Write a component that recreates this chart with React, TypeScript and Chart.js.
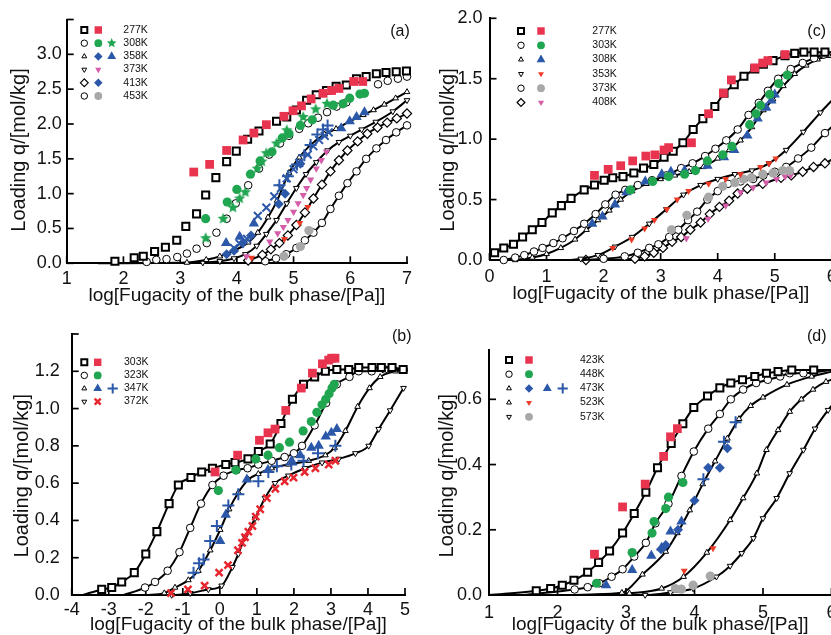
import React, { useEffect, useRef } from 'react';
import { Chart, registerables } from 'chart.js';
Chart.register(...registerables);

type P = [number, number];

// ---------------- Panel (a) data ----------------
const A_277_SIM: P[] = [[1.85,0.03],[2.19,0.08],[2.35,0.10],[2.55,0.17],[2.74,0.23],[2.94,0.33],[3.10,0.53],[3.29,0.71],[3.45,0.98],[3.63,1.23],[3.82,1.46],[3.99,1.61],[4.19,1.78],[4.39,1.90],[4.70,2.04],[4.88,2.10],[5.05,2.20],[5.23,2.34],[5.40,2.42],[5.58,2.48],[5.75,2.54],[5.93,2.56],[6.11,2.65],[6.28,2.68],[6.46,2.72],[6.63,2.74],[6.81,2.75],[6.99,2.76]];
const A_277_EXP: P[] = [[3.24,1.31],[3.52,1.42],[3.82,1.62],[4.11,1.77],[4.30,1.87],[4.52,1.99],[4.83,2.11],[4.99,2.19],[5.14,2.26],[5.31,2.36],[5.52,2.44],[5.67,2.48],[5.80,2.51],[6.06,2.61],[6.22,2.61]];
const A_308_SIM: P[] = [[2.41,0.02],[2.58,0.05],[2.76,0.06],[2.95,0.09],[3.12,0.14],[3.29,0.21],[3.47,0.29],[3.64,0.44],[3.82,0.64],[3.98,0.86],[4.20,1.12],[4.39,1.36],[4.57,1.56],[4.76,1.72],[4.92,1.83],[5.10,1.93],[5.26,2.01],[5.43,2.09],[5.59,2.17],[5.76,2.25],[5.93,2.31],[6.49,2.57],[6.66,2.62],[6.84,2.65],[7.00,2.68]];
const A_308_EXP_CI: P[] = [[3.45,0.64],[3.83,0.88],[4.00,1.06],[4.24,1.28],[4.41,1.47],[4.62,1.60],[4.80,1.80],[4.92,1.86],[5.12,1.98],[5.33,2.06],[5.70,2.27],[5.87,2.29],[5.99,2.37],[6.17,2.43],[6.25,2.44]];
const A_308_EXP_ST: P[] = [[3.45,0.36],[3.76,0.64],[3.93,0.80],[4.05,0.93],[4.15,1.02],[4.36,1.36],[4.44,1.46],[4.52,1.58],[4.70,1.72],[4.88,1.91],[5.17,2.10],[5.39,2.21],[5.59,2.29]];
const A_358_HEAD: P[] = [[1.55,0.0]];
const A_358_SIM: P[] = [[3.12,0.01],[3.46,0.05],[3.70,0.10],[3.95,0.18],[4.20,0.30],[4.37,0.44],[4.55,0.66],[4.71,0.90],[4.92,1.30],[5.10,1.52],[5.30,1.70],[5.55,1.85],[5.75,1.93],[6.00,2.04],[6.23,2.13],[6.41,2.20],[6.60,2.28],[6.80,2.37],[7.00,2.46]];
const A_373_SIM: P[] = [[3.40,0.01],[3.70,0.03],[3.95,0.07],[4.15,0.13],[4.35,0.25],[4.52,0.42],[4.70,0.62],[4.88,0.86],[5.05,1.08],[5.22,1.28],[5.40,1.45],[5.60,1.62],[5.80,1.74],[6.00,1.83],[6.20,1.92],[6.45,2.03],[6.75,2.18],[7.00,2.34]];
const A_413_SIM: P[] = [[4.20,0.04],[4.45,0.12],[4.60,0.20],[4.75,0.29],[4.90,0.40],[5.05,0.55],[5.20,0.73],[5.35,0.93],[5.50,1.13],[5.65,1.32],[5.80,1.48],[5.95,1.62],[6.13,1.75],[6.30,1.86],[6.48,1.95],[6.65,2.02],[6.82,2.08],[7.00,2.15]];
const A_453_SIM: P[] = [[4.50,0.03],[4.69,0.07],[4.87,0.13],[5.05,0.22],[5.20,0.33],[5.35,0.44],[5.50,0.58],[5.65,0.78],[5.80,0.97],[5.95,1.15],[6.11,1.32],[6.28,1.50],[6.46,1.65],[6.63,1.77],[6.81,1.88],[7.00,1.98]];
const A_453_EXP: P[] = [[4.83,0.10],[5.12,0.24],[5.27,0.47]];
const A_358_EXP_TRI: P[] = [[3.81,0.29],[4.05,0.38],[4.30,0.57],[5.84,1.94],[5.99,2.04],[6.11,2.10],[6.25,2.17]];
const A_BLUE_DIA: P[] = [[3.82,0.13],[3.95,0.18],[4.11,0.30],[4.25,0.40],[4.74,0.85],[4.85,1.00],[5.12,1.43]];
const A_BLUE_X: P[] = [[3.95,0.22],[4.05,0.28],[4.18,0.35],[4.37,0.68],[4.52,0.80],[4.66,0.96],[4.78,1.08],[4.88,1.22],[5.00,1.35],[5.10,1.44],[5.25,1.56],[5.35,1.68],[5.45,1.77],[5.55,1.83],[5.62,1.88]];
const A_BLUE_PLUS: P[] = [[4.75,1.12],[4.90,1.25],[5.06,1.42],[5.19,1.55],[5.30,1.70],[5.42,1.85],[5.52,1.92],[5.60,1.98]];
const A_373_EXP: P[] = [[4.17,0.10],[4.58,0.31],[4.72,0.43],[4.82,0.52],[4.90,0.62],[5.00,0.74],[5.08,0.86],[5.17,0.98],[5.23,1.08],[5.30,1.20],[5.40,1.36],[5.49,1.48],[5.58,1.60]];
const A_RED_TD: P[] = [[4.26,0.08],[4.84,0.35],[5.11,0.58],[5.25,0.81]];

// ---------------- Panel (c) data ----------------
const C_277_HEAD: P[] = [[0.0,0.05]];
const C_277_SIM: P[] = [[0.09,0.06],[0.25,0.10],[0.42,0.13],[0.58,0.19],[0.75,0.25],[0.92,0.31],[1.10,0.39],[1.26,0.45],[1.43,0.51],[1.66,0.58],[1.84,0.62],[2.01,0.66],[2.16,0.68],[2.34,0.69],[2.53,0.72],[2.70,0.76],[2.88,0.79],[3.06,0.85],[3.22,0.90],[3.39,0.97],[3.57,1.08],[3.74,1.17],[3.95,1.27],[4.11,1.38],[4.29,1.45],[4.46,1.52],[4.65,1.58],[4.80,1.62],[4.97,1.65],[5.18,1.69],[5.35,1.71],[5.51,1.72],[5.69,1.72],[5.88,1.72]];
const C_277_END: P[] = [[6.0,1.72]];
const C_277_EXP: P[] = [[1.84,0.70],[2.08,0.75],[2.30,0.78],[2.51,0.82],[2.74,0.86],[2.90,0.87],[3.06,0.91],[3.14,0.93],[3.54,0.97],[3.84,1.21],[4.10,1.38],[4.24,1.49],[4.65,1.59],[4.79,1.63],[4.88,1.65],[5.18,1.70]];
const C_303_SIM: P[] = [[0.25,0.00],[0.45,0.02],[0.61,0.04],[0.78,0.07],[0.93,0.10],[1.12,0.14],[1.28,0.18],[1.48,0.24],[1.66,0.30],[1.86,0.38],[2.03,0.46],[2.21,0.54],[2.38,0.58],[2.60,0.62],[2.85,0.66],[3.10,0.70],[3.36,0.76],[3.56,0.80],[3.78,0.86],[3.96,0.92],[4.15,0.99],[4.35,1.08],[4.54,1.20],[4.72,1.30],[4.88,1.40],[5.06,1.50],[5.28,1.58],[5.49,1.63],[5.69,1.67],[5.86,1.70]];
const C_303_END: P[] = [[6.0,1.72]];
const C_303_EXP: P[] = [[2.47,0.58],[2.86,0.65],[3.14,0.69],[3.42,0.71],[3.61,0.74],[3.82,0.82],[4.09,0.87],[4.25,0.94],[4.56,1.12],[4.67,1.21],[4.75,1.28],[4.91,1.37],[5.07,1.46],[5.22,1.53]];
const C_308_SIM: P[] = [[0.45,0.00],[0.75,0.02],[1.00,0.05],[1.25,0.10],[1.50,0.17],[1.70,0.25],[1.90,0.33],[2.10,0.41],[2.30,0.50],[2.50,0.57],[2.75,0.63],[3.00,0.67],[3.25,0.70],[3.50,0.73],[3.75,0.77],[4.00,0.84],[4.20,0.91],[4.40,0.99],[4.60,1.10],[4.80,1.24],[4.97,1.33],[5.15,1.44],[5.35,1.54],[5.55,1.61],[5.75,1.66],[5.95,1.69]];
const C_308_END: P[] = [[6.0,1.70]];
const C_308_EXP: P[] = [[1.80,0.30],[1.98,0.36],[2.20,0.46],[2.40,0.56],[2.73,0.65],[3.02,0.71],[3.18,0.73],[3.42,0.74],[3.82,0.78],[4.11,0.85],[4.29,0.91],[4.52,1.03],[4.70,1.17],[4.85,1.26],[4.94,1.32],[5.00,1.37]];
const C_353_HEAD: P[] = [[1.4,0.0]];
const C_353_SIM: P[] = [[1.60,0.01],[1.90,0.04],[2.20,0.11],[2.50,0.19],[2.80,0.30],[3.10,0.42],[3.40,0.54],[3.70,0.62],[4.00,0.67],[4.30,0.71],[4.60,0.74],[4.90,0.80],[5.20,0.91],[5.50,1.06],[5.80,1.22]];
const C_353_END: P[] = [[6.0,1.32]];
const C_353_EXP: P[] = [[2.16,0.10],[2.49,0.17],[2.72,0.26],[2.89,0.33],[3.11,0.42],[3.29,0.50],[3.49,0.57],[3.84,0.63],[4.14,0.67],[4.40,0.71],[4.75,0.77],[4.90,0.80],[5.02,0.84]];
const C_373_HEAD: P[] = [[1.6,0.0]];
const C_373_SIM: P[] = [[2.00,0.01],[2.37,0.03],[2.60,0.06],[2.80,0.10],[2.96,0.13],[3.15,0.19],[3.31,0.25],[3.48,0.33],[3.64,0.40],[3.82,0.50],[4.00,0.57],[4.18,0.63],[4.40,0.65],[4.62,0.67],[4.80,0.70],[5.00,0.73],[5.20,0.77],[5.41,0.84],[5.64,0.93],[5.88,1.05]];
const C_373_END: P[] = [[6.0,1.10]];
const C_373_EXP: P[] = [[3.19,0.25],[3.46,0.37],[3.84,0.52],[4.09,0.61],[4.30,0.64],[4.45,0.67],[4.59,0.68],[4.79,0.71],[4.97,0.72],[5.14,0.74],[5.26,0.74]];
const C_408_HEAD: P[] = [[1.5,0.0]];
const C_408_SIM: P[] = [[1.69,0.00],[2.55,0.01],[2.72,0.03],[2.88,0.06],[3.04,0.10],[3.20,0.15],[3.36,0.19],[3.52,0.25],[3.70,0.31],[3.86,0.38],[4.03,0.44],[4.20,0.49],[4.35,0.55],[4.52,0.59],[4.79,0.63],[5.11,0.68],[5.29,0.70],[5.49,0.73],[5.68,0.77],[5.88,0.80]];
const C_408_END: P[] = [[6.0,0.83]];
const C_408_EXP: P[] = [[3.45,0.18],[3.83,0.34],[4.14,0.45],[4.40,0.56],[4.62,0.60],[4.85,0.64],[5.03,0.67],[5.18,0.69],[5.28,0.70]];

// ---------------- Panel (b) data ----------------
const B_303_HEAD: P[] = [[-3.7,0.0]];
const B_303_SIM: P[] = [[-3.19,0.03],[-2.92,0.04],[-2.65,0.07],[-2.31,0.12],[-2.00,0.22],[-1.70,0.34],[-1.37,0.49],[-1.12,0.59],[-0.78,0.63],[-0.49,0.66],[-0.20,0.68],[0.16,0.70],[0.41,0.71],[0.76,0.73],[1.04,0.77],[1.36,0.81],[1.65,0.92],[1.96,1.05],[2.26,1.13],[2.56,1.17],[2.85,1.20],[3.16,1.21],[3.48,1.21],[3.75,1.22],[4.11,1.22],[4.36,1.22],[4.65,1.22],[4.95,1.21]];
const B_303_EXP: P[] = [[-0.13,0.66],[0.48,0.75],[1.07,0.83],[1.30,0.87],[1.49,0.89],[1.78,0.99],[2.20,1.11],[2.50,1.19],[2.77,1.24],[2.94,1.26],[3.02,1.27],[3.11,1.27]];
const B_323_HEAD: P[] = [[-2.6,0.0]];
const B_323_SIM: P[] = [[-2.02,0.04],[-1.75,0.07],[-1.41,0.13],[-1.09,0.23],[-0.80,0.36],[-0.51,0.49],[-0.20,0.59],[0.10,0.64],[0.45,0.67],[0.75,0.68],[1.04,0.70],[1.40,0.72],[1.75,0.74],[2.00,0.76],[2.22,0.80],[2.56,0.91],[2.87,1.03],[3.16,1.13],[3.50,1.17],[3.75,1.20],[4.10,1.20],[4.45,1.21],[4.96,1.21]];
const B_323_EXP: P[] = [[-0.04,0.56],[0.43,0.67],[0.97,0.73],[1.30,0.75],[1.61,0.79],[1.88,0.82],[2.25,0.88],[2.47,0.93],[2.62,0.98],[2.76,1.02],[2.86,1.05],[2.95,1.08],[3.03,1.11],[3.09,1.13]];
const B_347_HEAD: P[] = [[-2.0,0.0]];
const B_347_SIM: P[] = [[-1.50,0.01],[-1.21,0.04],[-0.85,0.08],[-0.58,0.13],[-0.26,0.24],[0.01,0.35],[0.25,0.46],[0.50,0.55],[0.77,0.62],[1.04,0.65],[1.40,0.68],[1.85,0.70],[2.40,0.72],[2.85,0.75],[3.10,0.79],[3.39,0.88],[3.72,1.01],[4.04,1.11],[4.33,1.17],[4.74,1.20],[5.00,1.21]];
const B_347_EXP_TRI: P[] = [[0.01,0.29],[0.16,0.43],[0.73,0.62],[1.30,0.67],[1.94,0.72],[2.17,0.75],[2.47,0.79],[2.67,0.80],[2.86,0.85],[3.01,0.87],[3.16,0.89]];
const B_347_EXP_PLUS: P[] = [[-0.71,0.12],[-0.56,0.17],[-0.44,0.19],[-0.26,0.29],[-0.08,0.37],[0.23,0.48],[0.50,0.54],[1.04,0.61],[1.31,0.66],[1.54,0.69],[1.93,0.70],[2.26,0.72],[2.65,0.76],[3.12,0.80]];
const B_372_HEAD: P[] = [[-1.6,0.0]];
const B_372_SIM: P[] = [[-1.30,0.00],[-0.80,0.01],[-0.31,0.03],[0.05,0.05],[0.34,0.15],[0.50,0.22],[0.68,0.31],[0.95,0.41],[1.22,0.52],[1.49,0.60],[1.85,0.64],[2.30,0.68],[2.76,0.71],[3.21,0.73],[3.66,0.76],[4.02,0.80],[4.29,0.89],[4.60,0.99],[4.96,1.11]];
const B_372_EXP: P[] = [[-1.32,0.01],[-0.86,0.03],[-0.41,0.05],[-0.02,0.12],[0.22,0.16],[0.49,0.24],[0.60,0.28],[0.68,0.31],[0.77,0.34],[0.88,0.37],[0.97,0.42],[1.09,0.46],[1.27,0.52],[1.50,0.57],[1.75,0.61],[1.99,0.63],[2.29,0.66],[2.58,0.68],[2.94,0.70],[3.12,0.72]];

// ---------------- Panel (d) data ----------------
const D_423_HEAD: P[] = [[1.0,0.0]];
const D_423_SIM: P[] = [[1.69,0.013],[1.90,0.02],[2.07,0.03],[2.24,0.045],[2.44,0.07],[2.60,0.10],[2.76,0.135],[2.95,0.19],[3.12,0.25],[3.29,0.315],[3.46,0.39],[3.66,0.465],[3.83,0.525],[3.99,0.575],[4.19,0.61],[4.37,0.635],[4.53,0.65],[4.70,0.66],[4.88,0.67],[5.05,0.68],[5.22,0.685],[5.42,0.69],[5.74,0.69]];
const D_423_END: P[] = [[6.0,0.69]];
const D_423_EXP: P[] = [[2.54,0.125],[2.95,0.27],[3.28,0.34],[3.55,0.425],[3.65,0.485],[3.75,0.51]];
const D_448_HEAD: P[] = [[1.5,0.0]];
const D_448_SIM: P[] = [[2.25,0.017],[2.44,0.024],[2.61,0.036],[2.79,0.056],[2.95,0.079],[3.12,0.118],[3.29,0.16],[3.43,0.22],[3.62,0.28],[3.81,0.365],[3.99,0.44],[4.20,0.51],[4.37,0.555],[4.53,0.60],[4.71,0.63],[4.90,0.65],[5.07,0.66],[5.25,0.67],[5.39,0.68],[5.59,0.68]];
const D_448_END: P[] = [[6.0,0.69]];
const D_448_EXP: P[] = [[2.57,0.036],[3.09,0.13],[3.38,0.19],[3.41,0.225],[3.58,0.265],[3.62,0.30],[3.83,0.345]];
const D_473_HEAD: P[] = [[2.0,0.0]];
const D_473_SIM: P[] = [[2.94,0.007],[3.24,0.063],[3.58,0.133],[3.75,0.19],[3.93,0.26],[4.12,0.34],[4.30,0.41],[4.48,0.48],[4.65,0.54],[4.82,0.58],[5.00,0.606],[5.35,0.645],[5.71,0.67]];
const D_473_END: P[] = [[6.0,0.685]];
const D_473_DIA: P[] = [[3.51,0.14],[3.58,0.153],[3.76,0.20],[4.00,0.29],[4.20,0.39],[4.37,0.39],[4.48,0.45]];
const D_473_TRI: P[] = [[2.71,0.03],[3.09,0.077],[3.37,0.12],[3.52,0.145],[3.65,0.195],[3.81,0.225]];
const D_473_PLUS: P[] = [[4.13,0.355],[4.43,0.47],[4.60,0.53]];
const D_523_HEAD: P[] = [[2.5,0.0]];
const D_523_SIM: P[] = [[3.05,0.005],[3.52,0.02],[3.84,0.056],[4.18,0.13],[4.52,0.23],[4.71,0.297],[4.91,0.373],[5.05,0.445],[5.22,0.506],[5.39,0.562],[5.56,0.60],[5.73,0.63],[5.92,0.654]];
const D_523_END: P[] = [[6.0,0.66]];
const D_523_EXP: P[] = [[3.85,0.074],[4.27,0.143]];
const D_573_HEAD: P[] = [[3.0,0.0]];
const D_573_SIM: P[] = [[3.28,0.0],[3.65,0.008],[3.98,0.02],[4.32,0.056],[4.52,0.089],[4.69,0.128],[4.86,0.174],[5.00,0.235],[5.20,0.297],[5.39,0.373],[5.59,0.445],[5.76,0.51],[5.95,0.567]];
const D_573_END: P[] = [[6.0,0.58]];
const D_573_EXP: P[] = [[3.72,0.02],[3.81,0.018],[3.98,0.03],[4.23,0.058]];

// ---------------- text ----------------
const X_TITLE = 'log[Fugacity of the bulk phase/[Pa]]';
const Y_TITLE = 'Loading q/[mol/kg]';
const LABELS_A = ['277K', '308K', '358K', '373K', '413K', '453K'];
const LABELS_C = ['277K', '303K', '308K', '353K', '373K', '408K'];
const LABELS_B = ['303K', '323K', '347K', '372K'];
const LABELS_D = ['423K', '448K', '473K', '523K', '573K'];

// ---------------- styles ----------------
const FONT = '"Liberation Sans", Arial, sans-serif';
const RED = '#E8344F';
const GREEN = '#20A650';
const BLUE = '#2B58A8';
const PINK = '#D45CA9';
const GRAY = '#A8A8A8';
const ORANGE = '#EE3B28';

type Mk = { shape: string; r: number; fill?: string; stroke?: string; lw?: number; rot?: number };
const SQ_O: Mk = { shape: 'rect', r: 5, fill: '#fff', stroke: '#000', lw: 2 };
const CI_O: Mk = { shape: 'circle', r: 3.8, fill: '#fff', stroke: '#000', lw: 1 };
const TR_O: Mk = { shape: 'triangle', r: 3.3, fill: '#fff', stroke: '#000', lw: 1 };
const TD_O: Mk = { shape: 'triangle', r: 3.3, fill: '#fff', stroke: '#000', lw: 1, rot: 180 };
const DI_O: Mk = { shape: 'rectRot', r: 4.6, fill: '#fff', stroke: '#000', lw: 1.2 };
const RED_SQ: Mk = { shape: 'rect', r: 6.2, fill: RED };
const GREEN_CI: Mk = { shape: 'circle', r: 4.6, fill: GREEN };
const GREEN_ST: Mk = { shape: 'star', r: 6, fill: GREEN };
const BLUE_TRI: Mk = { shape: 'triangle', r: 6, fill: BLUE };
const BLUE_DIA: Mk = { shape: 'rectRot', r: 5, fill: BLUE };
const BLUE_X: Mk = { shape: 'crossRot', r: 5.5, stroke: BLUE, lw: 2 };
const BLUE_PLUS: Mk = { shape: 'cross', r: 6, stroke: BLUE, lw: 2 };
const PINK_TD: Mk = { shape: 'triangle', r: 4.2, fill: PINK, rot: 180 };
const RED_TD: Mk = { shape: 'triangle', r: 4, fill: ORANGE, rot: 180 };
const GRAY_CI: Mk = { shape: 'circle', r: 4.6, fill: GRAY };
const RED_X: Mk = { shape: 'crossRot', r: 5, stroke: '#E8262F', lw: 2.5 };

function markerPath(ctx: CanvasRenderingContext2D, shape: string, x: number, y: number, r: number, rot: number) {
  ctx.beginPath();
  if (shape === 'circle') ctx.arc(x, y, r, 0, Math.PI * 2);
  else if (shape === 'rect') { const s = r * Math.SQRT1_2; ctx.rect(x - s, y - s, 2 * s, 2 * s); }
  else if (shape === 'rectRot') { ctx.moveTo(x - r, y); ctx.lineTo(x, y - r); ctx.lineTo(x + r, y); ctx.lineTo(x, y + r); ctx.closePath(); }
  else if (shape === 'triangle') {
    let a = (rot * Math.PI) / 180;
    for (let i = 0; i < 3; i++) {
      const px = x + Math.sin(a) * r, py = y - Math.cos(a) * r;
      if (i) ctx.lineTo(px, py); else ctx.moveTo(px, py);
      a += (2 * Math.PI) / 3;
    }
    ctx.closePath();
  } else if (shape === 'cross' || shape === 'crossRot') {
    const a = shape === 'crossRot' ? Math.PI / 4 : 0;
    const c = Math.cos(a) * r, s = Math.sin(a) * r;
    ctx.moveTo(x - c, y - s); ctx.lineTo(x + c, y + s);
    ctx.moveTo(x + s, y - c); ctx.lineTo(x - s, y + c);
  } else if (shape === 'star') {
    for (let i = 0; i < 10; i++) {
      const rr = i % 2 ? r * 0.45 : r;
      const a = -Math.PI / 2 + (i * Math.PI) / 5;
      const px = x + Math.cos(a) * rr, py = y + Math.sin(a) * rr;
      if (i) ctx.lineTo(px, py); else ctx.moveTo(px, py);
    }
    ctx.closePath();
  }
}

function drawMarker(ctx: CanvasRenderingContext2D, m: Mk, x: number, y: number, k: number) {
  markerPath(ctx, m.shape, x, y, m.r * k, m.rot || 0);
  if (m.fill) { ctx.fillStyle = m.fill; ctx.fill(); }
  if (m.stroke) { ctx.lineWidth = m.lw || 1; ctx.strokeStyle = m.stroke; ctx.stroke(); }
}

function starImage(m: Mk) {
  const s = Math.ceil(2 * m.r + 2);
  const c = document.createElement('canvas');
  c.width = s; c.height = s;
  const g = c.getContext('2d')!;
  markerPath(g, 'star', s / 2, s / 2, m.r, 0);
  g.fillStyle = m.fill || '#000';
  g.fill();
  return c;
}

type Series = { mk: Mk; pts: P[]; head?: P[]; end?: P[]; line?: boolean; lw?: number };

function makeDataset(s: Series) {
  const head = s.head || [];
  const end = s.end || [];
  const all = [...head, ...s.pts, ...end];
  const lo = head.length, hi = head.length + s.pts.length;
  const rad = (c: any) => (c.dataIndex >= lo && c.dataIndex < hi ? s.mk.r : 0);
  return {
    data: all.map(([x, y]) => ({ x, y })),
    showLine: !!s.line,
    borderColor: '#000',
    borderWidth: s.lw || 2,
    cubicInterpolationMode: 'monotone',
    pointStyle: s.mk.shape === 'star' ? starImage(s.mk) : s.mk.shape,
    pointRotation: s.mk.rot || 0,
    pointRadius: rad,
    pointHoverRadius: rad,
    pointBackgroundColor: s.mk.fill || 'rgba(0,0,0,0)',
    pointBorderColor: s.mk.stroke || s.mk.fill,
    pointBorderWidth: s.mk.stroke ? s.mk.lw : 0,
    clip: false,
  };
}

type Panel = {
  key: string; left: number; top: number; w: number; h: number;
  xMin: number; xMax: number; yMax: number; yStep: number; yLabelMax: number; yTickMax: number;
  area: { l: number; t: number; r: number; b: number };
  xPad: number; yPad: number;
  series: Series[];
  legend: { cols: number[]; textX: number; y0: number; dy: number; rows: Mk[][]; labels: string[] };
  xTitle: P; yTitle: P; tag: string; tagPos: P;
};

const PANELS: Panel[] = [
  {
    key: 'a', left: 0, top: 0, w: 415, h: 310,
    xMin: 1, xMax: 7, yMax: 3.5, yStep: 0.5, yLabelMax: 3.0, yTickMax: 3.5,
    area: { l: 66.7, t: 19.5, r: 407, b: 263.3 }, xPad: 5, yPad: 5,
    series: [
      { mk: RED_SQ, pts: A_277_EXP },
      { mk: GREEN_ST, pts: A_308_EXP_ST },
      { mk: GREEN_CI, pts: A_308_EXP_CI },
      { mk: BLUE_TRI, pts: A_358_EXP_TRI },
      { mk: BLUE_PLUS, pts: A_BLUE_PLUS },
      { mk: BLUE_X, pts: A_BLUE_X },
      { mk: BLUE_DIA, pts: A_BLUE_DIA },
      { mk: PINK_TD, pts: A_373_EXP },
      { mk: RED_TD, pts: A_RED_TD },
      { mk: GRAY_CI, pts: A_453_EXP },
      { mk: SQ_O, pts: A_277_SIM },
      { mk: CI_O, pts: A_308_SIM },
      { mk: TR_O, pts: A_358_SIM, head: A_358_HEAD, line: true },
      { mk: TD_O, pts: A_373_SIM, line: true },
      { mk: DI_O, pts: A_413_SIM, line: true },
      { mk: CI_O, pts: A_453_SIM, line: true },
    ],
    legend: {
      cols: [84.3, 98.3, 111.7], textX: 123.3, y0: 30, dy: 13.2,
      rows: [[SQ_O, RED_SQ], [CI_O, GREEN_CI, GREEN_ST], [TR_O, BLUE_DIA, BLUE_TRI], [TD_O, PINK_TD], [DI_O, BLUE_DIA], [CI_O, GRAY_CI]],
      labels: LABELS_A,
    },
    xTitle: [236.8, 296], yTitle: [19, 150], tag: '(a)', tagPos: [400, 31.7],
  },
  {
    key: 'c', left: 415, top: 0, w: 417, h: 310,
    xMin: 0, xMax: 6, yMax: 2.0, yStep: 0.5, yLabelMax: 2.0, yTickMax: 2.0,
    area: { l: 74.5, t: 18.3, r: 416.8, b: 260 }, xPad: 6, yPad: 7,
    series: [
      { mk: RED_SQ, pts: C_277_EXP },
      { mk: GREEN_CI, pts: C_303_EXP },
      { mk: BLUE_TRI, pts: C_308_EXP },
      { mk: RED_TD, pts: C_353_EXP },
      { mk: GRAY_CI, pts: C_373_EXP },
      { mk: PINK_TD, pts: C_408_EXP },
      { mk: SQ_O, pts: C_277_SIM, head: C_277_HEAD, end: C_277_END, line: true },
      { mk: CI_O, pts: C_303_SIM, end: C_303_END, line: true },
      { mk: TR_O, pts: C_308_SIM, end: C_308_END, line: true },
      { mk: TD_O, pts: C_353_SIM, head: C_353_HEAD, end: C_353_END, line: true },
      { mk: CI_O, pts: C_373_SIM, head: C_373_HEAD, end: C_373_END, line: true },
      { mk: DI_O, pts: C_408_SIM, head: C_408_HEAD, end: C_408_END, line: true },
    ],
    legend: {
      cols: [106, 126], textX: 177.3, y0: 31, dy: 14.3,
      rows: [[SQ_O, RED_SQ], [CI_O, GREEN_CI], [TR_O, BLUE_TRI], [TD_O, RED_TD], [CI_O, GRAY_CI], [DI_O, PINK_TD]],
      labels: LABELS_C,
    },
    xTitle: [245.8, 293.3], yTitle: [33, 150], tag: '(c)', tagPos: [401.7, 31.7],
  },
  {
    key: 'b', left: 0, top: 310, w: 415, h: 325,
    xMin: -4, xMax: 5, yMax: 1.4, yStep: 0.2, yLabelMax: 1.2, yTickMax: 1.4,
    area: { l: 71.7, t: 24, r: 405, b: 285 }, xPad: 4, yPad: 12,
    series: [
      { mk: RED_SQ, pts: B_303_EXP },
      { mk: GREEN_CI, pts: B_323_EXP },
      { mk: BLUE_TRI, pts: B_347_EXP_TRI },
      { mk: BLUE_PLUS, pts: B_347_EXP_PLUS },
      { mk: RED_X, pts: B_372_EXP },
      { mk: SQ_O, pts: B_303_SIM, head: B_303_HEAD, line: true },
      { mk: CI_O, pts: B_323_SIM, head: B_323_HEAD, line: true },
      { mk: TR_O, pts: B_347_SIM, head: B_347_HEAD, line: true },
      { mk: TD_O, pts: B_372_SIM, head: B_372_HEAD, line: true },
    ],
    legend: {
      cols: [84.3, 97.7, 112.7], textX: 124, y0: 52.3, dy: 13.1,
      rows: [[SQ_O, RED_SQ], [CI_O, GREEN_CI], [TR_O, BLUE_TRI, BLUE_PLUS], [TD_O, RED_X]],
      labels: LABELS_B,
    },
    xTitle: [238.4, 315], yTitle: [22, 165.7], tag: '(b)', tagPos: [401.7, 26.7],
  },
  {
    key: 'd', left: 415, top: 310, w: 417, h: 325,
    xMin: 1, xMax: 6, yMax: 0.75, yStep: 0.2, yLabelMax: 0.6, yTickMax: 0.6,
    area: { l: 74, t: 40.4, r: 416.5, b: 285 }, xPad: 7, yPad: 7,
    series: [
      { mk: RED_SQ, pts: D_423_EXP },
      { mk: GREEN_CI, pts: D_448_EXP },
      { mk: BLUE_PLUS, pts: D_473_PLUS },
      { mk: BLUE_DIA, pts: D_473_DIA },
      { mk: BLUE_TRI, pts: D_473_TRI },
      { mk: RED_TD, pts: D_523_EXP },
      { mk: GRAY_CI, pts: D_573_EXP },
      { mk: SQ_O, pts: D_423_SIM, head: D_423_HEAD, end: D_423_END, line: true },
      { mk: CI_O, pts: D_448_SIM, head: D_448_HEAD, end: D_448_END, line: true },
      { mk: TR_O, pts: D_473_SIM, head: D_473_HEAD, end: D_473_END, line: true },
      { mk: TR_O, pts: D_523_SIM, head: D_523_HEAD, end: D_523_END, line: true },
      { mk: TD_O, pts: D_573_SIM, head: D_573_HEAD, end: D_573_END, line: true },
    ],
    legend: {
      cols: [94, 114, 132.3, 147.7], textX: 165, y0: 50, dy: 14.2,
      rows: [[SQ_O, RED_SQ], [CI_O, GREEN_CI], [TR_O, BLUE_DIA, BLUE_TRI, BLUE_PLUS], [TR_O, RED_TD], [TD_O, GRAY_CI]],
      labels: LABELS_D,
    },
    xTitle: [245.2, 315], yTitle: [32, 165.7], tag: '(d)', tagPos: [401.7, 26.7],
  },
];

function makeDeco(p: Panel) {
  return {
    id: 'deco_' + p.key,
    beforeDatasetsDraw(chart: any) {
      const { ctx, chartArea: a, scales } = chart;
      ctx.save();
      ctx.strokeStyle = '#000';
      ctx.lineWidth = 1.7;
      scales.x.ticks.forEach((t: any) => {
        const px = scales.x.getPixelForValue(t.value);
        ctx.beginPath(); ctx.moveTo(px, a.bottom); ctx.lineTo(px, a.bottom - 7); ctx.stroke();
      });
      scales.y.ticks.forEach((t: any) => {
        const py = scales.y.getPixelForValue(t.value);
        ctx.beginPath(); ctx.moveTo(a.left, py); ctx.lineTo(a.left + 7, py); ctx.stroke();
      });
      ctx.restore();
    },
    afterDraw(chart: any) {
      const ctx: CanvasRenderingContext2D = chart.ctx;
      ctx.save();
      const L = p.legend;
      L.rows.forEach((row, i) => {
        const y = L.y0 + i * L.dy;
        row.forEach((m, j) => drawMarker(ctx, m, L.cols[j], y, 0.85));
        ctx.fillStyle = '#111';
        ctx.font = `10.5px ${FONT}`;
        ctx.textAlign = 'left';
        ctx.textBaseline = 'middle';
        ctx.fillText(L.labels[i], L.textX, y);
      });
      ctx.fillStyle = '#111';
      ctx.textAlign = 'center';
      ctx.textBaseline = 'middle';
      ctx.font = `19px ${FONT}`;
      ctx.fillText(X_TITLE, p.xTitle[0], p.xTitle[1]);
      ctx.save();
      ctx.font = `20px ${FONT}`;
      ctx.translate(p.yTitle[0], p.yTitle[1]);
      ctx.rotate(-Math.PI / 2);
      ctx.fillText(Y_TITLE, 0, 0);
      ctx.restore();
      ctx.font = `16px ${FONT}`;
      ctx.fillText(p.tag, p.tagPos[0], p.tagPos[1]);
      ctx.restore();
    },
  };
}

function buildConfig(p: Panel): any {
  const tickFont = { family: FONT, size: 18 };
  return {
    type: 'scatter',
    data: { datasets: p.series.map(makeDataset) },
    options: {
      responsive: false,
      animation: false,
      devicePixelRatio: 1,
      events: [],
      layout: { padding: { left: 0, top: p.area.t, right: p.w - p.area.r, bottom: 0 }, autoPadding: false },
      plugins: { legend: { display: false }, tooltip: { enabled: false } },
      scales: {
        x: {
          type: 'linear', min: p.xMin, max: p.xMax,
          ticks: { stepSize: 1, font: tickFont, color: '#111', padding: p.xPad, autoSkip: false, maxRotation: 0, callback: (v: any) => String(v) },
          grid: { display: false, drawTicks: false },
          border: { display: true, color: '#000', width: 2 },
          afterFit: (s: any) => { s.height = p.h - p.area.b; s.paddingLeft = 0; s.paddingRight = 0; },
        },
        y: {
          type: 'linear', min: 0, max: p.yMax,
          ticks: {
            stepSize: p.yStep, font: tickFont, color: '#111', padding: p.yPad, autoSkip: false,
            callback: (v: any) => (Number(v) > p.yLabelMax + 1e-6 ? '' : Number(v).toFixed(1)),
          },
          afterBuildTicks: (axis: any) => { axis.ticks = axis.ticks.filter((t: any) => t.value <= p.yTickMax + 1e-6); },
          grid: { display: false, drawTicks: false },
          border: { display: true, color: '#000', width: 2 },
          afterFit: (s: any) => { s.width = p.area.l; s.paddingTop = 0; s.paddingBottom = 0; },
        },
      },
    },
    plugins: [makeDeco(p)],
  };
}

function PanelChart({ p }: { p: Panel }) {
  const ref = useRef<HTMLCanvasElement>(null);
  useEffect(() => {
    const chart = new Chart(ref.current as HTMLCanvasElement, buildConfig(p));
    return () => chart.destroy();
  }, [p]);
  return (
    <canvas
      ref={ref}
      width={p.w}
      height={p.h}
      style={{ position: 'absolute', left: p.left, top: p.top, width: p.w, height: p.h }}
    />
  );
}

export default function App() {
  return (
    <div style={{ position: 'absolute', left: 0, top: 0, width: 831, height: 635, overflow: 'hidden', background: '#fff' }}>
      {PANELS.map((p) => (
        <PanelChart key={p.key} p={p} />
      ))}
    </div>
  );
}
